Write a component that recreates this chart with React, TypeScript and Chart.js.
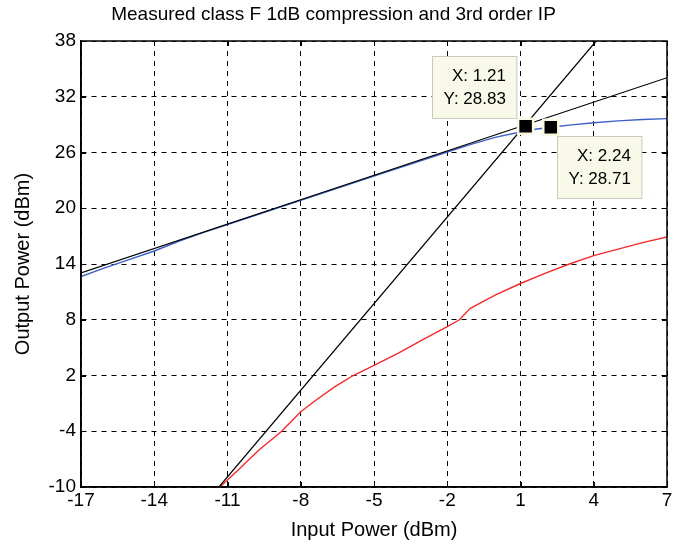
import React, { useEffect, useRef } from "react";
import { Chart, registerables } from "chart.js";

Chart.register(...registerables);

const chartTitle = "Measured class F 1dB compression and 3rd order IP";
const xAxisTitle = "Input Power (dBm)";
const yAxisTitle = "Output Power (dBm)";

const xTicks = [-17, -14, -11, -8, -5, -2, 1, 4, 7];
const yTicks = [-10, -4, 2, 8, 14, 20, 26, 32, 38];

// measured fundamental output (blue)
const fundInX = [-17, -16, -15, -14, -13, -12, -11, -8, -5, -2, -1, 0, 1, 1.6, 2.24, 3, 4, 5, 6, 7];
const fundOutY = [12.65, 13.6, 14.5, 15.4, 16.45, 17.38, 18.25, 20.85, 23.45, 26.05, 26.9, 27.65, 28.2, 28.5, 28.71, 28.95, 29.2, 29.4, 29.55, 29.65];

// measured 3rd order intermod output (red)
const im3InX = [-11.31, -10.5, -9.7, -8.78, -8, -7.3, -6.6, -5.85, -5.1, -4, -3, -2, -1.5, -1.07, -0.5, 0, 1, 2, 3, 4, 5, 6, 7];
const im3OutY = [-10, -8.0, -6.0, -4.0, -1.9, -0.5, 0.8, 2.0, 2.95, 4.4, 5.85, 7.25, 8.0, 9.2, 10.0, 10.7, 11.9, 13.0, 14.0, 14.9, 15.6, 16.3, 16.9];

// linear extrapolations (black)
const fundFitX = [-17, 7];
const fundFitY = [13.05, 34.05];
const im3FitX = [-11.35, 4.1];
const im3FitY = [-10, 38];

// data tips
const tipX = [1.21, 2.24];
const tipY = [28.83, 28.71];

const toPts = (xs: number[], ys: number[]) => xs.map((x, i) => ({ x, y: ys[i] }));

export default function App() {
  const ref = useRef<HTMLCanvasElement>(null);

  useEffect(() => {
    document.body.style.margin = "0";
    const canvas = ref.current;
    if (!canvas) return;
    const fam = "'Liberation Sans', Arial, Helvetica, sans-serif";

    const framePlugin = {
      id: "frame",
      afterDatasetsDraw(chart: any) {
        const { ctx, chartArea: a, scales } = chart;
        ctx.save();
        ctx.setLineDash([]);
        ctx.strokeStyle = "#000";
        ctx.lineWidth = 1;
        const tl = 5;
        ctx.beginPath();
        for (const v of xTicks) {
          const px = Math.round(scales.x.getPixelForValue(v)) + 0.5;
          ctx.moveTo(px, a.bottom);
          ctx.lineTo(px, a.bottom - tl);
          ctx.moveTo(px, a.top);
          ctx.lineTo(px, a.top + tl);
        }
        for (const v of yTicks) {
          const py = Math.round(scales.y.getPixelForValue(v)) + 0.5;
          ctx.moveTo(a.left, py);
          ctx.lineTo(a.left + tl, py);
          ctx.moveTo(a.right, py);
          ctx.lineTo(a.right - tl, py);
        }
        ctx.stroke();
        ctx.lineWidth = 1.5;
        ctx.strokeRect(a.left, a.top, a.right - a.left, a.bottom - a.top);
        ctx.restore();
      },
    };

    const tipPlugin = {
      id: "tips",
      afterDraw(chart: any) {
        const { ctx, scales } = chart;
        ctx.save();
        ctx.setLineDash([]);
        ctx.font = `17px ${fam}`;
        ctx.textBaseline = "middle";
        ctx.textAlign = "right";
        tipX.forEach((xv, i) => {
          const mx = scales.x.getPixelForValue(xv);
          const my = scales.y.getPixelForValue(tipY[i]);
          const l1 = `X: ${xv.toFixed(2)}`;
          const l2 = `Y: ${tipY[i].toFixed(2)}`;
          const w = Math.max(ctx.measureText(l1).width, ctx.measureText(l2).width) + 22;
          const h = 62;
          let bx: number, by: number;
          if (i === 0) {
            bx = mx - 9 - w;
            by = my - 8 - h;
          } else {
            bx = mx + 6;
            by = my + 9;
          }
          bx = Math.round(bx) + 0.5;
          by = Math.round(by) + 0.5;
          ctx.fillStyle = "#F9F9EA";
          ctx.fillRect(bx, by, w, h);
          ctx.strokeStyle = "#C9C9BE";
          ctx.lineWidth = 1;
          ctx.strokeRect(bx, by, w, h);
          ctx.fillStyle = "#000";
          ctx.fillText(l1, bx + w - 11, by + 20);
          ctx.fillText(l2, bx + w - 11, by + 43);
        });
        ctx.restore();
      },
    };

    const chart = new Chart(canvas, {
      type: "line",
      data: {
        datasets: [
          {
            label: "tips",
            data: toPts(tipX, tipY),
            showLine: false,
            pointStyle: "rect",
            pointRadius: 10.6,
            backgroundColor: "#000",
            borderColor: "#F9F9E4",
            borderWidth: 2.5,
          },
          {
            label: "fund fit",
            data: toPts(fundFitX, fundFitY),
            borderColor: "#000",
            borderWidth: 1.2,
            pointRadius: 0,
            tension: 0,
          },
          {
            label: "im3 fit",
            data: toPts(im3FitX, im3FitY),
            borderColor: "#000",
            borderWidth: 1.2,
            pointRadius: 0,
            tension: 0,
          },
          {
            label: "fund",
            data: toPts(fundInX, fundOutY),
            borderColor: "#3D5FC8",
            borderWidth: 1.4,
            pointRadius: 0,
            tension: 0,
          },
          {
            label: "im3",
            data: toPts(im3InX, im3OutY),
            borderColor: "#F52A2A",
            borderWidth: 1.4,
            pointRadius: 0,
            tension: 0,
          },
        ],
      },
      options: {
        responsive: false,
        animation: false,
        events: [],
        layout: { padding: { left: 0, right: 15, top: 0, bottom: 0 } },
        plugins: {
          legend: { display: false },
          tooltip: { enabled: false },
          title: {
            display: true,
            text: chartTitle,
            color: "#000",
            font: { family: fam, size: 19, weight: "normal" },
            padding: { top: 3, bottom: 15.2 },
          },
        },
        scales: {
          x: {
            type: "linear",
            min: xTicks[0],
            max: xTicks[xTicks.length - 1],
            afterBuildTicks: (s: any) => {
              s.ticks = xTicks.map((v) => ({ value: v }));
            },
            afterFit: (s: any) => {
              s.height = 63;
            },
            ticks: {
              color: "#000",
              font: { family: fam, size: 19 },
              padding: 2,
              maxRotation: 0,
              autoSkip: false,
            },
            grid: { color: "#000", lineWidth: 1, drawTicks: false },
            border: { display: true, color: "#000", width: 1.5, dash: [5, 5] },
            title: {
              display: true,
              text: xAxisTitle,
              color: "#000",
              font: { family: fam, size: 20 },
              padding: { top: 0, bottom: 8 },
            },
          },
          y: {
            type: "linear",
            min: yTicks[0],
            max: yTicks[yTicks.length - 1],
            afterBuildTicks: (s: any) => {
              s.ticks = yTicks.map((v) => ({ value: v }));
            },
            afterFit: (s: any) => {
              s.width = 81;
            },
            ticks: {
              color: "#000",
              font: { family: fam, size: 19 },
              padding: 5,
              autoSkip: false,
            },
            grid: { color: "#000", lineWidth: 1, drawTicks: false },
            border: { display: true, color: "#000", width: 1.5, dash: [5, 5] },
            title: {
              display: true,
              text: yAxisTitle,
              color: "#000",
              font: { family: fam, size: 20 },
              padding: { top: 11, bottom: 0 },
            },
          },
        },
      },
      plugins: [framePlugin, tipPlugin],
    } as any);

    return () => {
      chart.destroy();
    };
  }, []);

  return <canvas ref={ref} width={682} height={550} style={{ display: "block" }} />;
}
